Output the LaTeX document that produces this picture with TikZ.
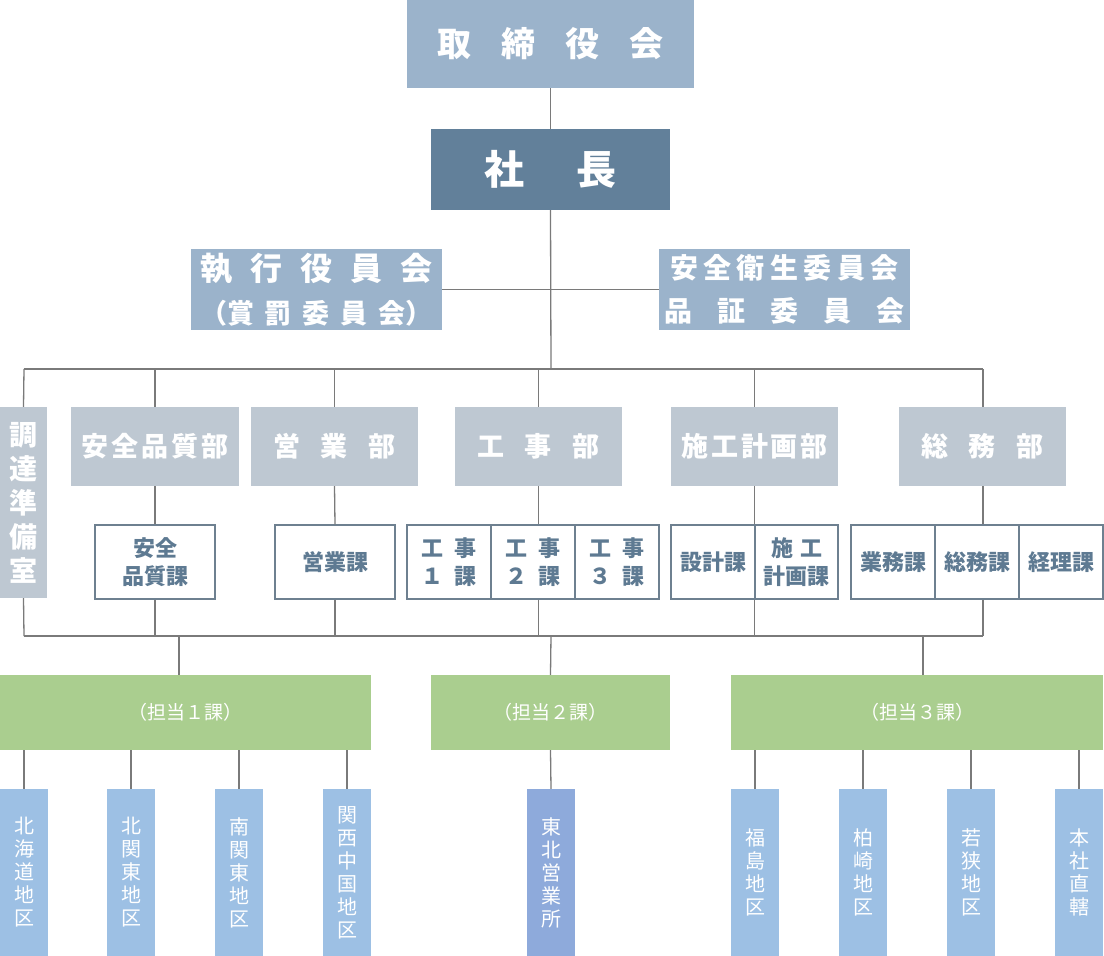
\documentclass[tikz,border=0pt]{standalone}
\usepackage{fontspec}
\setmainfont{Noto Sans CJK JP}
\definecolor{cBoard}{HTML}{9BB3CB}
\definecolor{cPres}{HTML}{62809A}
\definecolor{cDept}{HTML}{BEC8D2}
\definecolor{cSecB}{HTML}{6E8090}
\definecolor{cSecT}{HTML}{5E7A92}
\definecolor{cGreen}{HTML}{AACE8F}
\definecolor{cLeaf}{HTML}{9DC0E4}
\definecolor{cLeafB}{HTML}{8EAADB}
\definecolor{cLine}{HTML}{7A7A7A}
\begin{document}
\begin{tikzpicture}[x=1pt,y=-1pt,
  box/.style={rectangle, inner sep=0pt, text=white, align=center},
  topbox/.style={box, fill=cBoard, font=\fontsize{#1}{#1}\bfseries},
  deptbox/.style={box, fill=cDept, minimum width=167pt, minimum height=79pt, font=\fontsize{27}{27}\bfseries},
  secbox/.style={rectangle, inner sep=0pt, align=center, draw=cSecB, line width=1.2pt, fill=white, text=cSecT, minimum height=74pt, font=\fontsize{22}{28}\bfseries},
  greenbox/.style={box, fill=cGreen, minimum height=75pt, font=\fontsize{19}{19}\selectfont},
  leafbox/.style={box, fill=cLeaf, minimum width=48pt, minimum height=167pt, font=\fontsize{20}{23}\selectfont},
  conn/.style={draw=cLine, line width=1.3pt}
]
\useasboundingbox (0,0) rectangle (1104,956);
% top
\node[topbox=34, minimum width=287pt, minimum height=88pt] (board) at (550.5,44) {取\hspace{30pt}締\hspace{30pt}役\hspace{30pt}会};
\node[box, fill=cPres, minimum width=239pt, minimum height=81pt, font=\fontsize{40}{40}\bfseries] (pres) at (550.5,169.5) {社\hspace{52pt}長};
\node[topbox=32, minimum width=251pt, minimum height=81pt, font=\fontsize{32}{42}\bfseries] (exec) at (316.5,289.5) {執\hspace{18pt}行\hspace{18pt}役\hspace{18pt}員\hspace{18pt}会\\[1pt]{\fontsize{27}{27}\selectfont （賞\hspace{11pt}罰\hspace{11pt}委\hspace{11pt}員\hspace{11pt}会）}};
\node[topbox=28, minimum width=251pt, minimum height=81pt, font=\fontsize{28}{42}\bfseries] (safe) at (784.5,289.5) {安\hspace{5.5pt}全\hspace{5.5pt}衛\hspace{5.5pt}生\hspace{5.5pt}委\hspace{5.5pt}員\hspace{5.5pt}会\\[1pt]品\hspace{25pt}証\hspace{25pt}委\hspace{25pt}員\hspace{25pt}会};
% departments
\node[box, fill=cDept, minimum width=47pt, minimum height=191pt, font=\fontsize{28}{34}\bfseries] (chot) at (23.5,502.5) {調\\達\\準\\備\\室};
\node[deptbox, minimum width=168pt] (anz) at (155,446.5) {安\hspace{3pt}全\hspace{3pt}品\hspace{3pt}質\hspace{3pt}部};
\node[deptbox] (eig) at (334.5,446.5) {営\hspace{21pt}業\hspace{21pt}部};
\node[deptbox] (koj) at (538.5,446.5) {工\hspace{21pt}事\hspace{21pt}部};
\node[deptbox] (sek) at (754.5,446.5) {施\hspace{3pt}工\hspace{3pt}計\hspace{3pt}画\hspace{3pt}部};
\node[deptbox] (som) at (982.5,446.5) {総\hspace{21pt}務\hspace{21pt}部};
% sections
\node[secbox, minimum width=120pt] (s1) at (155,562) {安全\\品質課};
\node[secbox, minimum width=120pt] (s2) at (335,562) {営業課};
\node[secbox, minimum width=84pt] (k1) at (449,562) {工\hspace{12pt}事\\１\hspace{12pt}課};
\node[secbox, minimum width=84pt] (k2) at (533,562) {工\hspace{12pt}事\\２\hspace{12pt}課};
\node[secbox, minimum width=84pt] (k3) at (617,562) {工\hspace{12pt}事\\３\hspace{12pt}課};
\node[secbox, minimum width=84pt] (p1) at (713,562) {設計課};
\node[secbox, minimum width=83pt] (p2) at (796.5,562) {施\hspace{7pt}工\\計画課};
\node[secbox, minimum width=84pt] (g1) at (893,562) {業務課};
\node[secbox, minimum width=84pt] (g2) at (977,562) {総務課};
\node[secbox, minimum width=84pt] (g3) at (1061,562) {経理課};
% groups
\node[greenbox, minimum width=371pt] (t1) at (185.5,712.5) {（担当１課）};
\node[greenbox, minimum width=239pt] (t2) at (550.5,712.5) {（担当２課）};
\node[greenbox, minimum width=372pt] (t3) at (917,712.5) {（担当３課）};
% leaves
\node[leafbox] (l1) at (24,872.5) {北\\海\\道\\地\\区};
\node[leafbox] (l2) at (131,872.5) {北\\関\\東\\地\\区};
\node[leafbox] (l3) at (239,872.5) {南\\関\\東\\地\\区};
\node[leafbox] (l4) at (347,872.5) {関\\西\\中\\国\\地\\区};
\node[leafbox, fill=cLeafB] (l5) at (551,872.5) {東\\北\\営\\業\\所};
\node[leafbox] (r1) at (755,872.5) {福\\島\\地\\区};
\node[leafbox] (r2) at (863,872.5) {柏\\崎\\地\\区};
\node[leafbox] (r3) at (971,872.5) {若\\狭\\地\\区};
\node[leafbox] (r4) at (1079,872.5) {本\\社\\直\\轄};
% connector coordinates
\coordinate (busA) at (551,369);
\coordinate (busL) at (24,369);
\coordinate (busR) at (983,369);
\coordinate (lowL) at (24,636);
\coordinate (lowR) at (983,636);
\coordinate (c1) at (179,636);
\coordinate (c2) at (551,636);
\coordinate (c3) at (923,636);
% connectors
\draw[conn] (board.south) -- (pres.north);
\draw[conn] (pres.south) -- (busA);
\draw[conn] (exec.east) -- (safe.west);
\draw[conn] (busL) -- (busR);
\draw[conn] (busL) -- (chot.north);
\draw[conn] (anz.north |- busL) -- (anz.north);
\draw[conn] (eig.north |- busL) -- (eig.north);
\draw[conn] (koj.north |- busL) -- (koj.north);
\draw[conn] (sek.north |- busL) -- (sek.north);
\draw[conn] (busR) -- (busR |- som.north);
\draw[conn] (anz.south) -- (s1.north);
\draw[conn] (eig.south) -- (s2.north);
\draw[conn] (koj.south) -- (koj.south |- k2.north);
\draw[conn] (sek.south) -- (sek.south |- p1.north);
\draw[conn] (busR |- som.south) -- (busR |- g2.north);
\draw[conn] (lowL) -- (lowR);
\draw[conn] (chot.south) -- (lowL);
\draw[conn] (s1.south) -- (s1.south |- lowL);
\draw[conn] (s2.south) -- (s2.south |- lowL);
\draw[conn] (koj.south |- k2.south) -- (koj.south |- lowL);
\draw[conn] (sek.south |- p1.south) -- (sek.south |- lowL);
\draw[conn] (busR |- g2.south) -- (lowR);
\draw[conn] (c1) -- (c1 |- t1.north);
\draw[conn] (c2) -- (t2.north);
\draw[conn] (c3) -- (c3 |- t3.north);
\foreach \n in {l1,l2,l3,l4}{\draw[conn] (\n.north |- t1.south) -- (\n.north);}
\draw[conn] (t2.south) -- (l5.north);
\foreach \n in {r1,r2,r3,r4}{\draw[conn] (\n.north |- t3.south) -- (\n.north);}
\end{tikzpicture}
\end{document}
